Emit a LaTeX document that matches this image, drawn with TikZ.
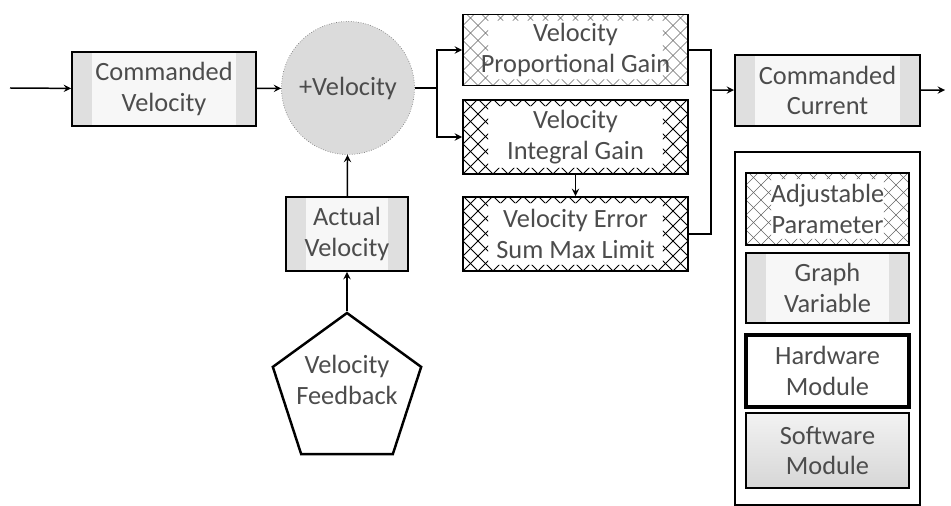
\documentclass[tikz,border=0pt]{standalone}
\usepackage{fontspec}
\setmainfont{Carlito}
\usetikzlibrary{shapes.geometric}

\tikzset{
	every node/.style={align=center, text=black!70, font=\fontsize{15}{17.5}\selectfont},
	blk/.style={draw, line width=1.1pt, inner sep=0pt, fill=white},
	% grey dotted side strips
	graphvar/.style={blk, fill=gray!6,
		path picture={
			\fill[gray!25] (path picture bounding box.south west) rectangle ([xshift=0.4cm]path picture bounding box.north west);
			\fill[gray!25] ([xshift=-0.4cm]path picture bounding box.south east) rectangle (path picture bounding box.north east);
		}},
	% cross hatched side strips and edges
	param/.style={blk,
		path picture={
			\begin{scope}
				\clip (path picture bounding box.south west) rectangle ([xshift=0.5cm]path picture bounding box.north west)
					([xshift=-0.5cm]path picture bounding box.south east) rectangle (path picture bounding box.north east)
					([yshift=-0.12cm]path picture bounding box.north west) rectangle (path picture bounding box.north east)
					(path picture bounding box.south west) rectangle ([yshift=0.12cm]path picture bounding box.south east);
				\foreach \k in {0,...,30} {
					\draw[#1] ([xshift=\k*0.3cm-3cm]path picture bounding box.south west) -- ++(3cm,3cm);
					\draw[#1] ([xshift=\k*0.3cm]path picture bounding box.south west) -- ++(-3cm,3cm);
				}
			\end{scope}
		}},
	param/.default={line width=0.5pt},
	hardware/.style={blk, line width=2pt},
	software/.style={blk, top color=gray!10, bottom color=gray!32},
	conn/.style={line width=0.85pt}
}

\begin{document}
\begin{tikzpicture}[x=0.02cm, y=-0.02cm]
	\useasboundingbox (0,0) rectangle (951,506);

	% main loop
	\node[graphvar, minimum width=3.68cm, minimum height=1.48cm] (cv) at (164,89) {Commanded\\Velocity};
	\node[circle, fill=gray!28, draw=gray, densely dotted, minimum size=2.66cm, inner sep=0pt] (vel) at (348,88) {+Velocity};
	\node[graphvar, minimum width=2.44cm, minimum height=1.48cm] (av) at (347,234) {Actual\\Velocity};
	\node[regular polygon, regular polygon sides=5, draw, line width=1.4pt, minimum size=3.12cm, inner sep=0pt,
		label={[yshift=0.22cm]center:Velocity\\Feedback}] (vfb) at (347,391) {};

	\node[param={line width=0.35pt, black!60}, minimum width=4.5cm, minimum height=1.42cm] (vpg) at (575.5,50) {Velocity\\Proportional Gain};
	\node[param, minimum width=4.5cm, minimum height=1.48cm] (vig) at (575.5,137) {Velocity\\Integral Gain};
	\node[param, minimum width=4.5cm, minimum height=1.48cm] (vesml) at (575.5,234) {Velocity Error\\Sum Max Limit};

	\node[graphvar, minimum width=3.7cm, minimum height=1.42cm] (cc) at (827.5,90.5) {Commanded\\Current};

	% legend
	\node[draw, line width=1.1pt, minimum width=3.7cm, minimum height=7.06cm] (legend) at (827.5,328.5) {};
	\node[param={line width=0.35pt, black!60}, minimum width=3.26cm, minimum height=1.44cm] (adj) at (827.5,209) {Adjustable\\Parameter};
	\node[graphvar, minimum width=3.26cm, minimum height=1.4cm] (gv) at (827.5,288) {Graph\\Variable};
	\node[hardware, minimum width=3.26cm, minimum height=1.44cm] (hw) at (827.5,371) {Hardware\\Module};
	\node[software, minimum width=3.26cm, minimum height=1.5cm] (sw) at (827.5,450.5) {Software\\Module};

	% connectors
	\coordinate (in) at (10,88);
	\coordinate (split) at (437,88);
	\coordinate (join) at (711,90);
	\coordinate (out) at (945,90);

	\draw[conn, -stealth] (in) -- (cv);
	\draw[conn, -stealth] (cv) -- (vel);
	\draw[conn] (vel) -- (split);
	\draw[conn, -stealth] (split) |- (vpg);
	\draw[conn, -stealth] (split) |- (vig);
	\draw[conn, -stealth] (vig) -- (vesml);
	\draw[conn, -stealth] (av) -- (vel);
	\draw[conn, -stealth] (vfb) -- (av);

	\draw[conn] (vpg) -| (join);
	\draw[conn] (vesml) -| (join);
	\draw[conn, -stealth] (join) -- (cc);
	\draw[conn, -stealth] (cc) -- (out);
\end{tikzpicture}
\end{document}
